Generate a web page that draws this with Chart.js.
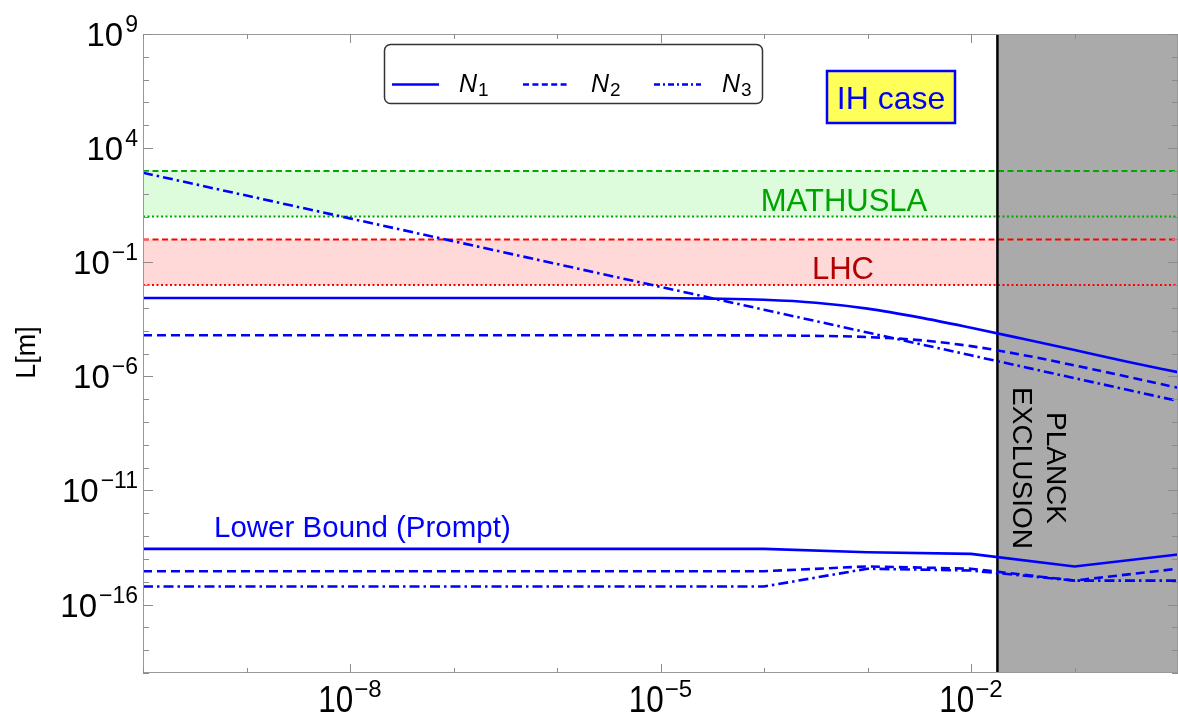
<!DOCTYPE html>
<html><head><meta charset="utf-8">
<script src="https://cdn.jsdelivr.net/npm/chart.js@4.4.1/dist/chart.umd.min.js"></script>
<style>html,body{margin:0;padding:0;background:#fff}canvas{display:block}</style>
</head><body>
<canvas id="c" width="1178" height="721"></canvas>
<script>
// ---------- data ----------
const massGrid = [1e-10,1e-9,1e-8,1e-7,1e-6,1e-5,3.16e-5,1e-4,3.16e-4,1e-3,3.16e-3,1e-2,3.16e-2,1e-1,3.16e-1,1];
const lengthN1 = [2.69e-3,2.69e-3,2.69e-3,2.69e-3,2.69e-3,2.69e-3,2.54e-3,2.26e-3,1.68e-3,9.27e-4,3.83e-4,1.34e-4,4.40e-5,1.41e-5,4.46e-6,1.52e-6];
const lengthN2 = [6.31e-5,6.31e-5,6.31e-5,6.31e-5,6.31e-5,6.31e-5,6.27e-5,6.18e-5,5.93e-5,5.26e-5,3.86e-5,2.10e-5,8.63e-6,3.01e-6,9.84e-7,3.15e-7];
const lengthN3 = [832,83.2,8.32,0.832,0.0832,8.32e-3,2.63e-3,8.32e-4,2.63e-4,8.32e-5,2.63e-5,8.32e-6,2.63e-6,8.32e-7,2.63e-7,8.32e-8];

const lbMass = [1e-10,1e-4,1e-3,1e-2,1e-1,1];
const lbN1 = [2.75e-14,2.75e-14,1.95e-14,1.66e-14,4.68e-15,1.55e-14];
const lbN2 = [2.88e-15,2.88e-15,4.68e-15,3.72e-15,1.12e-15,3.72e-15];
const lbN3 = [6.17e-16,6.17e-16,3.72e-15,3.09e-15,1.12e-15,1.12e-15];

const mathuslaRange = [10, 1000];
const lhcRange = [0.01, 1];
const planckMass = 0.018;

const xRange = [1e-10, 1];
const yRange = [1e-19, 1e9];
const xTickExps = [-8, -5, -2];
const yTickExps = [9, 4, -1, -6, -11, -16];
const seriesNames = ['1', '2', '3'];

// ---------- helpers ----------
const pts = (xs, ys) => xs.map((x, i) => ({x, y: ys[i]}));
const hline = (y, x0, x1) => [{x: x0, y}, {x: x1, y}];
const BLUE = '#0000ff';
const FONT = '"Liberation Sans", Arial, Helvetica, sans-serif';

const dashN2 = [9, 5];
const dashN3 = [10, 4, 2.5, 4];

const datasets = [
  // bands (drawn first)
  {data: hline(mathuslaRange[0], xRange[0], planckMass), borderWidth: 0, fill: false, order: 10},
  {data: hline(mathuslaRange[1], xRange[0], planckMass), borderWidth: 0, fill: '-1', backgroundColor: '#dcfcdc', order: 10},
  {data: hline(lhcRange[0], xRange[0], planckMass), borderWidth: 0, fill: false, order: 10},
  {data: hline(lhcRange[1], xRange[0], planckMass), borderWidth: 0, fill: '-1', backgroundColor: '#ffd8d8', order: 10},
  // Planck excluded region
  {data: hline(yRange[1], planckMass, xRange[1]), borderWidth: 0, fill: 'start', backgroundColor: '#aaaaaa', order: 9},
  // experiment lines
  {data: hline(mathuslaRange[1], xRange[0], xRange[1]), borderColor: '#00a800', borderWidth: 2, borderDash: [6, 3.5], order: 5},
  {data: hline(mathuslaRange[0], xRange[0], xRange[1]), borderColor: '#00a800', borderWidth: 2, borderDash: [2, 2.5], order: 5},
  {data: hline(lhcRange[1], xRange[0], xRange[1]), borderColor: '#ff0000', borderWidth: 2, borderDash: [6, 3.5], order: 5},
  {data: hline(lhcRange[0], xRange[0], xRange[1]), borderColor: '#ff0000', borderWidth: 2, borderDash: [2, 2.5], order: 5},
  // Planck line
  {data: [{x: planckMass, y: yRange[0]}, {x: planckMass, y: yRange[1]}], borderColor: '#000', borderWidth: 2.5, order: 4},
  // decay lengths
  {data: pts(massGrid, lengthN1), borderColor: BLUE, borderWidth: 2.6, cubicInterpolationMode: 'monotone', order: 0},
  {data: pts(massGrid, lengthN2), borderColor: BLUE, borderWidth: 2.6, borderDash: dashN2, cubicInterpolationMode: 'monotone', order: 0},
  {data: pts(massGrid, lengthN3), borderColor: BLUE, borderWidth: 2.6, borderDash: dashN3, order: 0},
  // lower bounds
  {data: pts(lbMass, lbN1), borderColor: BLUE, borderWidth: 2.6, order: 0},
  {data: pts(lbMass, lbN2), borderColor: BLUE, borderWidth: 2.6, borderDash: dashN2, order: 0},
  {data: pts(lbMass, lbN3), borderColor: BLUE, borderWidth: 2.6, borderDash: dashN3, order: 0}
].map(d => Object.assign({showLine: true, pointRadius: 0, tension: 0, backgroundColor: d.backgroundColor || 'transparent', fill: d.fill === undefined ? false : d.fill}, d));

function drawFrame(chart) {
  const ctx = chart.ctx, a = chart.chartArea, xs = chart.scales.x, ys = chart.scales.y;
  ctx.save();
  ctx.strokeStyle = '#999';
  ctx.lineWidth = 1;
  ctx.strokeRect(a.left + 0.5, a.top + 0.5, a.right - a.left - 1, a.bottom - a.top - 1);
  ctx.strokeStyle = '#8c8c8c';
  ctx.beginPath();
  for (let e = Math.log10(xRange[0]); e <= Math.log10(xRange[1]); e++) {
    const px = Math.round(xs.getPixelForValue(Math.pow(10, e))) + 0.5;
    const len = xTickExps.includes(e) ? 9 : 5;
    ctx.moveTo(px, a.bottom); ctx.lineTo(px, a.bottom - len);
    ctx.moveTo(px, a.top); ctx.lineTo(px, a.top + len);
  }
  for (let e = Math.log10(yRange[0]); e <= Math.log10(yRange[1]); e++) {
    const py = Math.round(ys.getPixelForValue(Math.pow(10, e))) + 0.5;
    const len = yTickExps.includes(e) ? 10 : 6;
    ctx.moveTo(a.left, py); ctx.lineTo(a.left + len, py);
    ctx.moveTo(a.right, py); ctx.lineTo(a.right - len, py);
  }
  ctx.stroke();

  // tick labels
  ctx.fillStyle = '#000';
  ctx.textBaseline = 'alphabetic';
  ctx.textAlign = 'left';
  yTickExps.forEach(e => {
    const py = ys.getPixelForValue(Math.pow(10, e));
    const exp = String(e).replace('-', '\u2212');
    ctx.font = '33px ' + FONT;
    const wb = ctx.measureText('10').width;
    ctx.font = '23px ' + FONT;
    const we = ctx.measureText(exp).width;
    const right = 138;
    ctx.fillText(exp, right - we, py + 12 - 14);
    ctx.font = '33px ' + FONT;
    ctx.fillText('10', right - we - 2 - wb, py + 12);
  });
  xTickExps.forEach(e => {
    const px = xs.getPixelForValue(Math.pow(10, e));
    const exp = String(e).replace('-', '\u2212');
    const sc = 0.85;
    ctx.font = '37px ' + FONT;
    const wb = ctx.measureText('10').width * sc;
    ctx.font = '24px ' + FONT;
    const we = ctx.measureText(exp).width;
    const x0 = px - (wb + 1 + we) / 2;
    ctx.fillText(exp, x0 + wb + 1, 697);
    ctx.save();
    ctx.translate(x0, 712);
    ctx.scale(sc, 1);
    ctx.font = '37px ' + FONT;
    ctx.fillText('10', 0, 0);
    ctx.restore();
  });

  // axis title
  ctx.save();
  ctx.translate(35, 352.5);
  ctx.rotate(-Math.PI / 2);
  ctx.textAlign = 'center';
  ctx.font = '27px ' + FONT;
  ctx.fillText('L[m]', 0, 0);
  ctx.restore();

  // annotations
  ctx.textAlign = 'center';
  ctx.font = '31px ' + FONT;
  ctx.fillStyle = '#00a400';
  ctx.fillText('MATHUSLA', 844, 211);
  ctx.fillStyle = '#b40000';
  ctx.fillText('LHC', 843, 279);
  ctx.fillStyle = BLUE;
  ctx.textAlign = 'left';
  ctx.font = '29.5px ' + FONT;
  ctx.fillText('Lower Bound (Prompt)', 214, 537);

  // Planck label (rotated clockwise)
  ctx.save();
  ctx.translate(1040, 468);
  ctx.rotate(Math.PI / 2);
  ctx.fillStyle = '#000';
  ctx.textAlign = 'center';
  ctx.font = '28px ' + FONT;
  ctx.fillText('PLANCK', 0, -7);
  ctx.fillText('EXCLUSION', 0, 27);
  ctx.restore();

  // IH case box
  ctx.fillStyle = '#ffff5a';
  ctx.fillRect(827, 71, 128, 52);
  ctx.strokeStyle = BLUE;
  ctx.lineWidth = 2.5;
  ctx.strokeRect(827, 71, 128, 52);
  ctx.fillStyle = BLUE;
  ctx.textAlign = 'center';
  ctx.font = '32px ' + FONT;
  ctx.fillText('IH case', 891, 108.5);

  // legend
  ctx.beginPath();
  ctx.roundRect(384.5, 44.5, 378, 59, 6);
  ctx.fillStyle = '#fff';
  ctx.fill();
  ctx.strokeStyle = '#333';
  ctx.lineWidth = 1.5;
  ctx.stroke();
  const legendItems = [
    {x0: 392, x1: 439, tx: 459, dash: []},
    {x0: 523, x1: 570, tx: 591, dash: [6, 3.4]},
    {x0: 654, x1: 701, tx: 722, dash: [6, 3, 2, 3]}
  ];
  legendItems.forEach((it, i) => {
    ctx.strokeStyle = BLUE;
    ctx.lineWidth = 2.5;
    ctx.setLineDash(it.dash);
    ctx.beginPath();
    ctx.moveTo(it.x0, 84.5); ctx.lineTo(it.x1, 84.5);
    ctx.stroke();
    ctx.setLineDash([]);
    ctx.fillStyle = '#000';
    ctx.textAlign = 'left';
    ctx.font = 'italic 25px ' + FONT;
    ctx.fillText('N', it.tx, 91.5);
    const wn = ctx.measureText('N').width;
    ctx.font = '19px ' + FONT;
    ctx.fillText(seriesNames[i], it.tx + wn + 1, 96);
  });
  ctx.restore();
}

new Chart(document.getElementById('c'), {
  type: 'scatter',
  data: {datasets},
  options: {
    responsive: false,
    animation: false,
    layout: {padding: {left: 143, right: 0, top: 34, bottom: 48}},
    plugins: {legend: {display: false}, tooltip: {enabled: false}},
    scales: {
      x: {type: 'logarithmic', min: xRange[0], max: xRange[1], display: false},
      y: {type: 'logarithmic', min: yRange[0], max: yRange[1], display: false}
    }
  },
  plugins: [{id: 'frame', afterDraw: drawFrame}]
});
</script>
</body></html>
